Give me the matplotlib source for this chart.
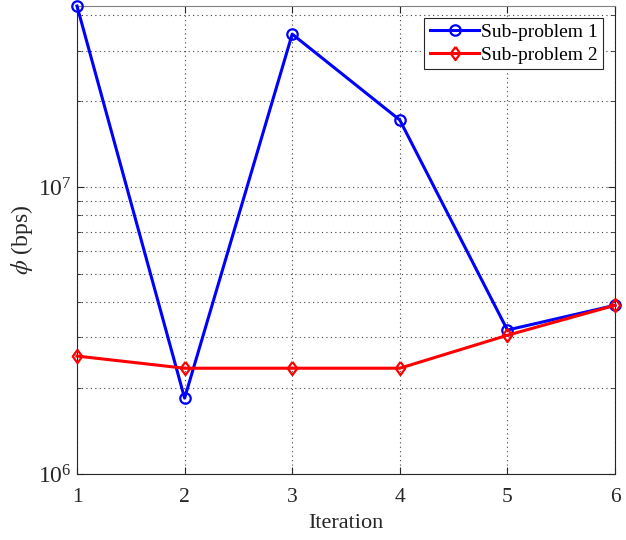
import matplotlib
matplotlib.use("Agg")
import matplotlib.pyplot as plt
from matplotlib.ticker import LogLocator, NullFormatter, FixedLocator

plt.rcParams['font.family'] = ['Liberation Serif', 'DejaVu Serif']
plt.rcParams['mathtext.fontset'] = 'stix'

iterations = [1, 2, 3, 4, 5, 6]
sub1 = [4.3e7, 1.84e6, 3.43e7, 1.72e7, 3.18e6, 3.88e6]
sub2 = [2.58e6, 2.34e6, 2.34e6, 2.34e6, 3.05e6, 3.88e6]
labels = ['Sub-problem 1', 'Sub-problem 2']

diamond = [(0, 1), (0.72, 0), (0, -1), (-0.72, 0), (0, 1)]

fig = plt.figure(figsize=(6.26, 5.40), dpi=100)
ax = fig.add_axes([77/626, 1-474/540, (615-77)/626, (474-6)/540])

ax.plot(iterations, sub1, color='#0000ff', lw=2.2, marker='o', ms=7.5,
        mfc='none', mew=1.6, label=labels[0], zorder=3, clip_on=False)
ax.plot(iterations, sub2, color='#ff0000', lw=2.2, marker=diamond, ms=9.5,
        mfc='none', mew=1.6, label=labels[1], zorder=4, clip_on=False)

ax.set_yscale('log')
ax.set_xlim(1, 6)
ax.set_ylim(1e6, 4.3e7)
ax.xaxis.set_major_locator(FixedLocator(iterations))
ax.yaxis.set_major_locator(LogLocator(base=10, numticks=10))
ax.yaxis.set_minor_locator(LogLocator(base=10, subs=range(2, 10), numticks=20))
ax.yaxis.set_minor_formatter(NullFormatter())

ax.grid(True, which='major', linestyle=(0, (1, 3)), color='#404040', lw=0.8)
ax.grid(True, which='minor', axis='y', linestyle=(0, (1, 3)), color='#404040', lw=0.8)

ax.tick_params(which='both', direction='in', top=True, right=True,
               colors='#262626')
ax.tick_params(axis='x', pad=10, labelsize=15.5)
ax.tick_params(axis='y', pad=4, labelsize=17)
ax.tick_params(which='major', length=5)
ax.tick_params(which='minor', length=3)
for s in ax.spines.values():
    s.set_color('#262626')
    s.set_linewidth(0.8)
ax.spines['top'].set_color('#808080')

ax.set_xlabel('Iteration', fontsize=16, color='#262626', labelpad=5)
ax.set_ylabel(r'$\phi$ (bps)', fontsize=17, color='#262626', labelpad=2)

leg = ax.legend(loc='upper right', fontsize=14, numpoints=1, fancybox=False,
                framealpha=1, edgecolor='#262626', borderpad=0.3,
                handlelength=2.5, handletextpad=0.1, labelspacing=0.25,
                borderaxespad=0.6)
leg.get_frame().set_linewidth(0.8)

fig.savefig('out.png', dpi=100)
